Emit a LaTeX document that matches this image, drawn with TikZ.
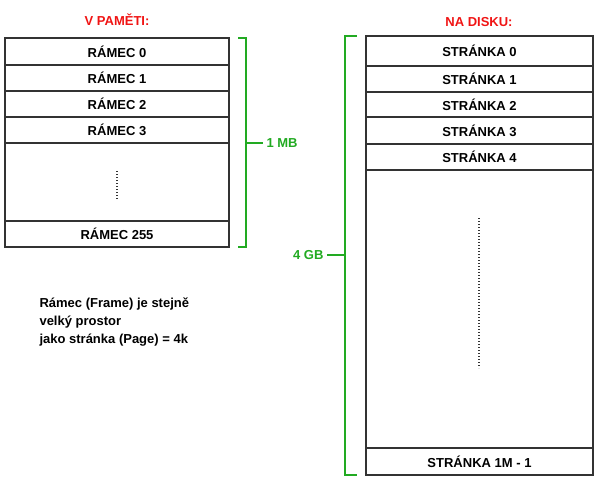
\documentclass[tikz,border=0pt]{standalone}
\usepackage{fontspec}
\setmainfont{Liberation Sans}
\usetikzlibrary{positioning}
\definecolor{memgreen}{RGB}{34,170,34}
\definecolor{memred}{RGB}{240,20,20}
\tikzset{
  cell/.style={draw=black!80, line width=1.1pt, inner sep=0pt, outer sep=0pt, font=\bfseries\fontsize{13}{15}\selectfont},
  title/.style={text=memred, font=\bfseries\fontsize{13}{15}\selectfont},
  brace/.style={draw=memgreen, line width=1.1pt},
  size/.style={text=memgreen, font=\bfseries\fontsize{13}{15}\selectfont},
  dots/.style={draw=black!80, line width=1.1pt, dash pattern=on 1pt off 2pt}
}
\begin{document}
\begin{tikzpicture}[x=1pt,y=-1pt]
        \useasboundingbox (0,0) rectangle (598,480);
        % Titles
        \node[title] (vpam) at (117,20) {V PAMĚTI:};
        \node[title] (disk) at (479,22) {NA DISKU:};
        % Frames in memory
        \node[cell, minimum width=224pt, minimum height=27pt] (r0) at (117,51.5) {RÁMEC 0};
        \node[cell, minimum width=224pt, minimum height=26pt, below=0pt of r0] (r1) {RÁMEC 1};
        \node[cell, minimum width=224pt, minimum height=26pt, below=0pt of r1] (r2) {RÁMEC 2};
        \node[cell, minimum width=224pt, minimum height=26pt, below=0pt of r2] (r3) {RÁMEC 3};
        \node[cell, minimum width=224pt, minimum height=78pt, below=0pt of r3] (rgap) {};
        \node[cell, minimum width=224pt, minimum height=26pt, below=0pt of rgap] (r255) {RÁMEC 255};
        \draw[dots] (117,171) -- (117,200);
        % Pages on disk
        \node[cell, minimum width=227pt, minimum height=30pt] (s0) at (479.5,51) {STRÁNKA 0};
        \node[cell, minimum width=227pt, minimum height=26pt, below=0pt of s0] (s1) {STRÁNKA 1};
        \node[cell, minimum width=227pt, minimum height=25pt, below=0pt of s1] (s2) {STRÁNKA 2};
        \node[cell, minimum width=227pt, minimum height=27pt, below=0pt of s2] (s3) {STRÁNKA 3};
        \node[cell, minimum width=227pt, minimum height=26pt, below=0pt of s3] (s4) {STRÁNKA 4};
        \node[cell, minimum width=227pt, minimum height=278pt, below=0pt of s4] (sgap) {};
        \node[cell, minimum width=227pt, minimum height=27pt, below=0pt of sgap] (slast) {STRÁNKA 1M - 1};
        \draw[dots] (479,218) -- (479,368);
        % Size brackets
        \draw[brace] (r0.north east) ++(9,0) -- ++(8,0) |- ([xshift=9pt]r255.south east);
        \coordinate (b1) at (246,143);
        \node[size, anchor=west] (mb) at (263,143) {1 MB};
        \draw[brace] (b1) -- (mb.west);
        \draw[brace] (s0.north west) ++(-9,0) -- ++(-12,0) |- ([xshift=-9pt]slast.south west);
        \coordinate (b2) at (345,255);
        \node[size, anchor=east] (gb) at (327,255) {4 GB};
        \draw[brace] (b2) -- (gb.east);
        % Note
        \node[anchor=north west, align=left, font=\bfseries\fontsize{13}{18}\selectfont] (note) at (36,294)
          {Rámec (Frame) je stejně\\velký prostor\\jako stránka (Page) = 4k};
\end{tikzpicture}
\end{document}
